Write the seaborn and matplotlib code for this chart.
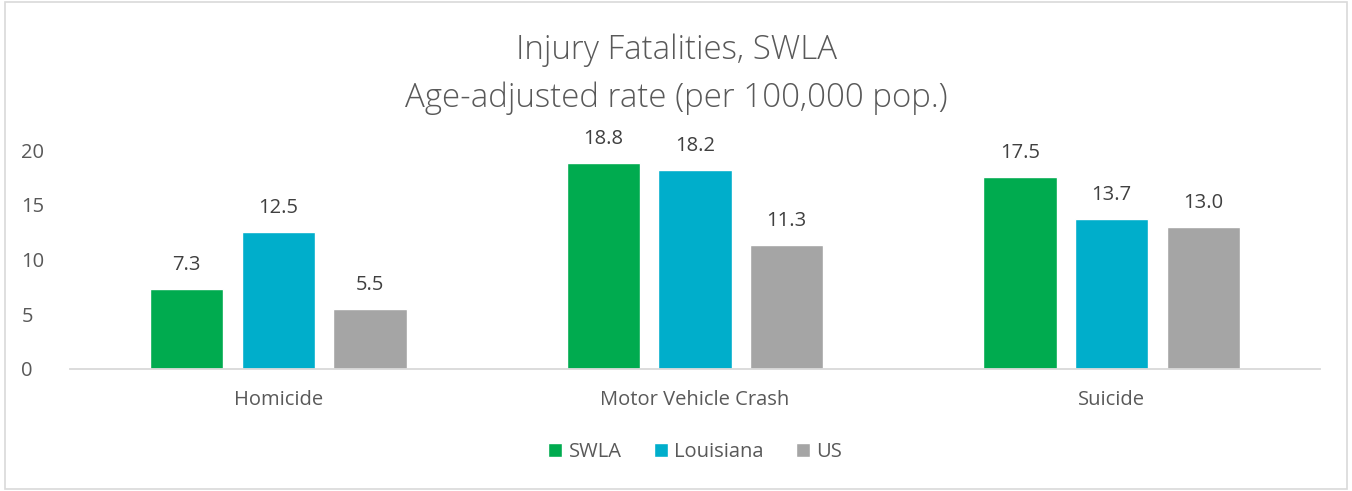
import pandas as pd
import seaborn as sns
import matplotlib.pyplot as plt
from matplotlib.patches import Rectangle

categories = ['Homicide', 'Motor Vehicle Crash', 'Suicide']
regions = ['SWLA', 'Louisiana', 'US']
swla = [7.3, 18.8, 17.5]
louisiana = [12.5, 18.2, 13.7]
us = [5.5, 11.3, 13.0]

df = pd.DataFrame({'cause': categories * 3,
                   'region': ['SWLA'] * 3 + ['Louisiana'] * 3 + ['US'] * 3,
                   'rate': swla + louisiana + us})

colors = {'SWLA': '#00AB4F', 'Louisiana': '#00AECB', 'US': '#A5A5A5'}

sns.set_style('white')
plt.rcParams['font.family'] = ['Open Sans', 'DejaVu Sans']

fig = plt.figure(figsize=(13.52, 4.91), dpi=100)
ax = fig.add_axes([0.0518, 0.2485, 0.9245, 0.446])

sns.barplot(data=df, x='cause', y='rate', hue='region', hue_order=regions,
            palette=colors, saturation=1, width=0.66, gap=0.2, ax=ax, legend=True)

ax.set_ylim(0, 20)
ax.set_yticks([0, 5, 10, 15, 20])
ax.set_xlabel('')
ax.set_ylabel('')
for s in ['top', 'right', 'left']:
    ax.spines[s].set_visible(False)
ax.spines['bottom'].set_color('#D9D9D9')
ax.spines['bottom'].set_linewidth(1.3)
ax.tick_params(axis='both', length=0, labelsize=14.5, colors='#595959')
ax.tick_params(axis='x', pad=15)
ax.tick_params(axis='y', pad=35)
for lab in ax.get_yticklabels():
    lab.set_horizontalalignment('left')

for cont in ax.containers:
    ax.bar_label(cont, fmt='%.1f', padding=10, fontsize=14.5, color='#404040')

ax.legend(loc='center', bbox_to_anchor=(0.5, -0.38), ncol=3, frameon=False,
          fontsize=14.5, labelcolor='#595959', handlelength=0.7, handleheight=0.7,
          handletextpad=0.3, columnspacing=1.6)

fig.text(0.5, 0.898, 'Injury Fatalities, SWLA', ha='center', va='center',
         fontsize=23.8, color='#595959', fontweight='light')
fig.text(0.5, 0.80, 'Age-adjusted rate (per 100,000 pop.)', ha='center', va='center',
         fontsize=23.8, color='#595959', fontweight='light')

fig.patches.append(Rectangle((0.004, 0.004), 0.992, 0.992, transform=fig.transFigure,
                             fill=False, edgecolor='#D9D9D9', linewidth=1.2))

fig.savefig('out.png', dpi=100, facecolor='white')
